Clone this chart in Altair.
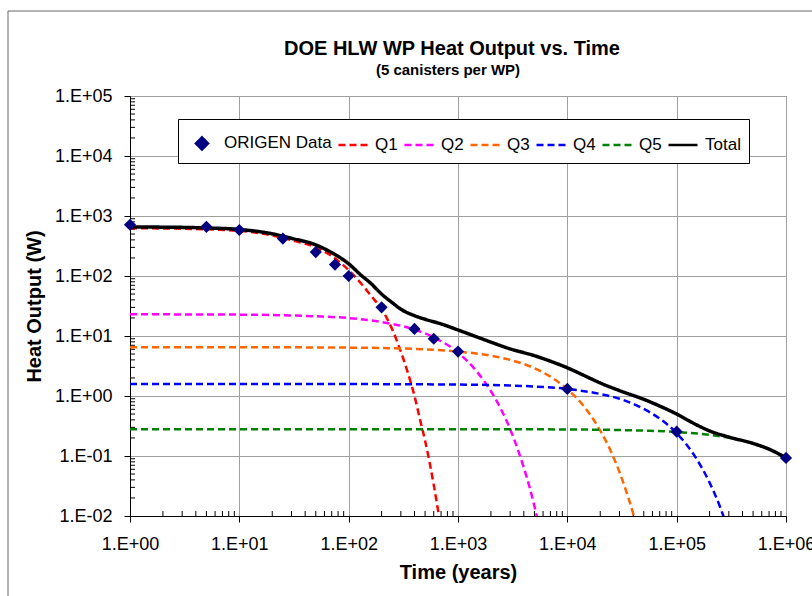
import altair as alt
import pandas as pd

# ---------------- data ----------------
title_text = "DOE HLW WP Heat Output vs. Time"
subtitle_text = "(5 canisters per WP)"

series_order = ["ORIGEN Data", "Q1", "Q2", "Q3", "Q4", "Q5", "Total"]
series_colors = ["#000080", "#ff0000", "#ff00ff", "#ff6600", "#0000ff", "#008000", "#000000"]

origen_t = [1, 5, 10, 25, 50, 75, 100, 200, 400, 600, 1000, 10000, 100000, 1000000]
origen_w = [715, 660, 585, 420, 250, 155, 100, 30, 13.1, 9.0, 5.5, 1.31, 0.254, 0.093]

q1_t = [1, 2, 5, 10, 20, 30, 50, 70, 100, 130, 160, 200, 250, 300, 350, 400, 450, 500, 550, 600, 650, 700]
q1_w = [624, 620, 600, 565, 475, 395, 300, 215, 125, 75, 47, 28, 13, 5.5, 2.35, 1.0, 0.4, 0.18, 0.078, 0.033, 0.014, 0.006]

q2_t = [1, 10, 50, 100, 200, 400, 600, 1000, 1500, 2000, 2500, 3000, 3500, 4000, 4500, 5000, 5500]
q2_w = [23, 22.7, 21.3, 19.9, 17.1, 12.8, 9.5, 5.3, 2.5, 1.2, 0.58, 0.28, 0.133, 0.064, 0.031, 0.0146, 0.007]

q3_t = [1, 10, 100, 500, 1000, 2000, 3000, 5000, 7000, 10000, 15000, 20000, 25000, 30000, 35000, 40000, 45000]
q3_w = [6.5, 6.5, 6.4, 6.0, 5.5, 4.7, 4.0, 2.9, 2.1, 1.3, 0.59, 0.265, 0.12, 0.054, 0.024, 0.011, 0.0047]

q4_t = [1, 100, 1000, 5000, 10000, 20000, 30000, 50000, 70000, 100000, 150000, 200000, 250000, 300000]
q4_w = [1.58, 1.58, 1.55, 1.44, 1.31, 1.08, 0.9, 0.61, 0.42, 0.24, 0.093, 0.036, 0.014, 0.0054]

q5_t = [1, 1000, 10000, 50000, 100000, 200000, 300000, 500000, 700000, 1000000]
q5_w = [0.28, 0.28, 0.277, 0.265, 0.252, 0.225, 0.202, 0.162, 0.13, 0.094]

total_t = [1, 2, 5, 10, 20, 30, 50, 70, 100, 130, 160, 200, 250, 300, 400, 500, 700, 1000,
           1500, 2000, 3000, 5000, 7000, 10000, 15000, 20000, 30000, 50000, 70000, 100000,
           150000, 200000, 300000, 500000, 700000, 1000000]
total_w = [655, 652, 632, 597, 505, 425, 330, 245, 160, 103, 75, 50, 36, 28, 21.8, 19.0, 15.9, 12.6,
           9.6, 7.9, 6.1, 4.7, 3.8, 2.95, 2.1, 1.65, 1.23, 0.88, 0.68, 0.5,
           0.335, 0.262, 0.207, 0.162, 0.13, 0.093]

x_decades = [1, 10, 100, 1000, 10000, 100000, 1000000]
y_decades = [0.01, 0.1, 1, 10, 100, 1000, 10000, 100000]

# ---------------- tables ----------------
q_frames = []
for name, ts, ws in [("Q1", q1_t, q1_w), ("Q2", q2_t, q2_w), ("Q3", q3_t, q3_w),
                     ("Q4", q4_t, q4_w), ("Q5", q5_t, q5_w)]:
    q_frames.append(pd.DataFrame({"t": ts, "w": ws, "series": name}))
q_df = pd.concat(q_frames, ignore_index=True)
total_df = pd.DataFrame({"t": total_t, "w": total_w, "series": "Total"})
origen_df = pd.DataFrame({"t": origen_t, "w": origen_w, "series": "ORIGEN Data"})

x_minor = pd.DataFrame({"mt": [k * d for d in x_decades[:-1] for k in range(2, 10)]})
y_minor = pd.DataFrame({"mv": [k * d for d in y_decades[:-1] for k in range(2, 10)]})

FONT = "Liberation Sans"
W, H = 656, 420

xscale = alt.Scale(type="log", domain=[1, 1000000])
yscale = alt.Scale(type="log", domain=[0.01, 100000])

exp_label = ("'1.E' + (datum.value < 1 ? '-' : '+') + "
             "(abs(round(log(datum.value)/LN10)) < 10 ? '0' : '') + abs(round(log(datum.value)/LN10))")

x_axis = alt.Axis(values=x_decades, labelExpr=exp_label, title="Time (years)",
                  grid=True, gridColor="#a0a0a0", gridWidth=1,
                  tickSize=6, tickColor="black", domainColor="black",
                  labelFontSize=18, labelPadding=13, labelFlush=False,
                  titleFontSize=20, titlePadding=9)
y_axis = alt.Axis(values=y_decades, labelExpr=exp_label, title="Heat Output (W)",
                  grid=True, gridColor="#a0a0a0", gridWidth=1,
                  tickSize=6, tickColor="black", domainColor="black",
                  labelFontSize=18, labelPadding=12, labelFlush=False,
                  titleFontSize=20, titlePadding=10)

legend = alt.Legend(title=None, orient="none", legendX=48, legendY=23, direction="horizontal")

color_enc = alt.Color("series:N", scale=alt.Scale(domain=series_order, range=series_colors), legend=legend)
dash_enc = alt.StrokeDash("series:N",
                          scale=alt.Scale(domain=series_order,
                                          range=[[1, 0], [7, 4], [7, 4], [7, 4], [7, 4], [7, 4], [1, 0]]),
                          legend=legend)
shape_enc = alt.Shape("series:N",
                      scale=alt.Scale(domain=series_order,
                                      range=["M0,-0.42L0.42,0L0,0.42L-0.42,0Z", "stroke", "stroke",
                                             "stroke", "stroke", "stroke", "stroke"]),
                      legend=legend)

one_row = pd.DataFrame({"a": [0]})

# outer chart frame (decoration)
frame = alt.Chart(one_row).mark_rect(filled=False, stroke="#666666", strokeWidth=1).encode(
    x=alt.value(8 - 130), x2=alt.value(W + 200), y=alt.value(11 - 96), y2=alt.value(H + 200)
)

# chart title and subtitle as text
title_layer = alt.Chart(one_row).mark_text(
    text=title_text, font=FONT, fontSize=20, fontWeight="bold", color="black",
    align="center", baseline="alphabetic"
).encode(x=alt.value(452 - 130), y=alt.value(55 - 96))
subtitle_layer = alt.Chart(one_row).mark_text(
    text=subtitle_text, font=FONT, fontSize=15, fontWeight="bold", color="black",
    align="center", baseline="alphabetic"
).encode(x=alt.value(448 - 130), y=alt.value(75 - 96))

xminor_layer = alt.Chart(x_minor).mark_rule(color="black", strokeWidth=1).encode(
    x=alt.X("mt:Q", scale=xscale, axis=x_axis), y=alt.value(H), y2=alt.value(H - 5)
)
yminor_layer = alt.Chart(y_minor).mark_rule(color="black", strokeWidth=1).encode(
    y=alt.Y("mv:Q", scale=yscale, axis=y_axis), x=alt.value(0), x2=alt.value(5)
)

q_layer = alt.Chart(q_df).mark_line(strokeWidth=2.5, clip=True, interpolate="monotone").encode(
    x=alt.X("t:Q", scale=xscale, axis=x_axis),
    y=alt.Y("w:Q", scale=yscale, axis=y_axis),
    color=color_enc, strokeDash=dash_enc, detail="series:N",
)
total_layer = alt.Chart(total_df).mark_line(strokeWidth=3.5, clip=True, interpolate="monotone").encode(
    x=alt.X("t:Q", scale=xscale, axis=x_axis),
    y=alt.Y("w:Q", scale=yscale, axis=y_axis),
    color=color_enc, strokeDash=dash_enc,
)
point_layer = alt.Chart(origen_df).mark_point(filled=True, size=841, opacity=1).encode(
    x=alt.X("t:Q", scale=xscale, axis=x_axis),
    y=alt.Y("w:Q", scale=yscale, axis=y_axis),
    color=color_enc, shape=shape_enc,
)

chart = alt.layer(frame, title_layer, subtitle_layer, xminor_layer, yminor_layer,
                  q_layer, total_layer, point_layer).properties(
    width=W, height=H,
    autosize=alt.AutoSizeParams(type="none"),
    padding={"left": 130, "top": 96, "right": 812 - 130 - W, "bottom": 596 - 96 - H},
    background="white",
).configure_view(stroke="black", strokeWidth=1).configure_axis(
    labelFont=FONT, titleFont=FONT, labelColor="black", titleColor="black",
    titleFontWeight="bold", domainWidth=1,
).configure_legend(
    labelFont=FONT, labelFontSize=17, labelColor="black", symbolSize=841, symbolStrokeWidth=2.5,
    strokeColor="black", fillColor="white", padding=8, columnPadding=1, labelOffset=6,
    labelLimit=300, symbolOpacity=1,
)

chart.save("out.html", embed_options={"renderer": "svg", "actions": False})
